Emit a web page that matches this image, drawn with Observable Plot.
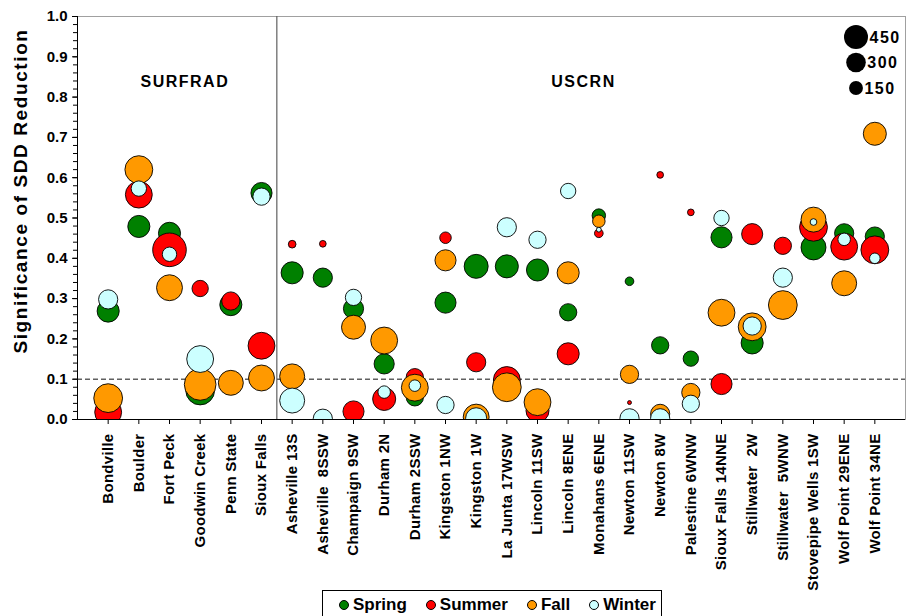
<!DOCTYPE html>
<html><head><meta charset="utf-8">
<script src="https://cdn.jsdelivr.net/npm/d3@7"></script>
<script src="https://cdn.jsdelivr.net/npm/@observablehq/plot@0.6"></script>
<style>
body{margin:0;background:#fff;font-family:"Liberation Sans",Arial,sans-serif;}
#wrap{position:relative;width:906px;height:616px;overflow:hidden;background:#fff;}
#wrap svg{font-family:"Liberation Sans",Arial,sans-serif;}
#legend{position:absolute;left:322px;top:590px;width:340px;height:32px;border:1px solid #000;box-sizing:border-box;background:#fff;
  display:flex;align-items:flex-start;padding-left:16px;padding-top:4px;font-weight:bold;font-size:17px;color:#000;}
#legend .item{display:flex;align-items:center;margin-right:19px;line-height:20px;}
#legend .dot{width:8px;height:8px;border-radius:50%;border:1px solid #000;margin-right:4px;}
</style></head>
<body><div id="wrap"></div>
<script>
const stations = ["Bondville","Boulder","Fort Peck","Goodwin Creek","Penn State","Sioux Falls",
  "Asheville 13S","Asheville  8SSW","Champaign 9SW","Durham 2N","Durham 2SSW","Kingston 1NW","Kingston 1W",
  "La Junta 17WSW","Lincoln 11SW","Lincoln 8ENE","Monahans 6ENE","Newton 11SW","Newton 8W","Palestine 6WNW",
  "Sioux Falls 14NNE","Stillwater  2W","Stillwater  5WNW","Stovepipe Wells 1SW","Wolf Point 29ENE","Wolf Point 34NE"];
const networks = ["SURFRAD","USCRN"];
const networkCounts = [6, 20];
const seasons = ["Spring","Summer","Fall","Winter"];
const seasonColors = ["#008000","#FF0000","#FF9900","#CCFFFF"];

const springValue = [0.269,0.479,0.462,0.072,0.285,0.562, 0.364,0.352,0.275,0.138,0.055,0.290,0.380,0.380,0.371,0.266,0.506,0.343,0.184,0.151,0.452,0.190,null,0.427,0.462,0.454];
const springSize  = [381,381,381,648,381,348, 381,288,318,318,233,348,450,415,381,233,141,58,233,184,348,381,null,487,288,288];
const summerValue = [0.018,0.558,0.421,0.325,0.294,0.183, 0.435,0.436,0.020,0.051,0.105,0.451,0.142,0.098,0.022,0.163,0.462,0.042,0.607,0.514,0.088,0.460,0.431,0.477,0.429,0.421];
const summerSize  = [564,564,882,208,260,564, 46,35,348,415,233,104,288,564,415,381,58,12,35,35,348,348,233,606,564,606];
const fallValue   = [0.053,0.620,0.327,0.087,0.091,0.103, 0.107,null,0.229,0.196,0.079,0.395,0.006,0.080,0.043,0.364,0.492,0.112,0.014,0.067,0.265,0.230,0.284,0.496,0.338,0.709];
const fallSize    = [648,606,525,784,487,525, 487,null,450,564,564,348,525,648,564,381,122,260,288,260,564,606,648,487,487,415];
const winterValue = [0.298,0.573,0.410,0.150,null,0.553, 0.047,0.002,0.303,0.068,0.084,0.036,0.003,0.477,0.446,0.567,0.471,0.003,0.003,0.039,0.500,0.232,0.352,0.490,0.447,0.400];
const winterSize  = [288,184,162,564,null,233, 487,288,208,122,104,233,348,288,233,184,18,288,288,233,184,260,288,35,122,87];

const threshold = 0.1;
const yTicks = [0,0.1,0.2,0.3,0.4,0.5,0.6,0.7,0.8,0.9,1.0];
const sizeLegend = [450,300,150];
const yLabel = "Significance of SDD Reduction";

const seriesValues = [springValue, summerValue, fallValue, winterValue];
const seriesSizes = [springSize, summerSize, fallSize, winterSize];
const rows = [];
seasons.forEach((s, k) => {
  seriesValues[k].forEach((v, i) => {
    if (v != null) rows.push({station: i + 1, season: s, value: v, size: seriesSizes[k][i]});
  });
});
let start = 1;
const groups = networks.map((n, i) => {
  const g = {name: n, center: start + (networkCounts[i] - 1) / 2, end: start + networkCounts[i] - 1};
  start += networkCounts[i];
  return g;
});
const separator = [groups[0].end + 0.5];
const minorTicks = d3.range(0, 51).map(i => i / 50);

const chart = Plot.plot({
  width: 906, height: 616,
  marginLeft: 77, marginRight: 1, marginTop: 16, marginBottom: 197,
  style: {fontFamily: '"Liberation Sans", Arial, sans-serif', color: "#000", background: "#fff"},
  x: {domain: [0, stations.length + 1], axis: null},
  y: {domain: [0, 1], axis: null},
  r: {type: "sqrt", domain: [0, 450], range: [0, 12]},
  color: {domain: seasons, range: seasonColors},
  marks: [
    Plot.frame({stroke: "#a0a0a0"}),
    Plot.ruleX(separator, {stroke: "#606060", strokeWidth: 1.2}),
    Plot.ruleY([threshold], {stroke: "#606060", strokeWidth: 1.5, strokeDasharray: "5,3"}),
    Plot.dot(rows, {x: "station", y: "value", r: "size", fill: "season", stroke: "#000", strokeWidth: 0.9, sort: null, clip: true}),
    Plot.ruleX([0], {stroke: "#000"}),
    Plot.ruleY([0], {stroke: "#000"}),
    Plot.axisY({ticks: minorTicks, tickSize: 4, tickFormat: () => "", label: null}),
    Plot.axisY({ticks: yTicks, tickSize: 5, tickPadding: 5, tickFormat: d3.format(".1f"), fontSize: 15, fontWeight: "bold", label: null}),
    Plot.axisX({ticks: d3.range(1, stations.length + 1), tickFormat: i => stations[i - 1], tickRotate: -90,
      tickSize: 5, tickPadding: 9, fontSize: 15, fontWeight: "bold", label: null}),
    Plot.text(groups, {x: "center", text: "name", frameAnchor: "top", lineAnchor: "middle", dy: 65, fontSize: 16, fontWeight: "bold"}),
    Plot.text([yLabel], {frameAnchor: "left", rotate: -90, textAnchor: "middle", dx: -57, dy: -27, fontSize: 19, fontWeight: "bold"})
  ]
});

d3.select(chart).selectAll("text").each(function() {
  const t = this.textContent;
  if (networks.includes(t)) this.style.letterSpacing = "1.5px";
  if (t === yLabel) this.style.letterSpacing = "1.6px";
  if (stations.includes(t)) this.style.letterSpacing = "0.3px";
});

const wrap = document.getElementById("wrap");
wrap.appendChild(chart);

// size legend
const rs = chart.scale("r");
const ov = d3.create("svg").attr("width", 906).attr("height", 110)
  .style("position", "absolute").style("left", "0px").style("top", "0px")
  .style("font-family", '"Liberation Sans", Arial, sans-serif');
sizeLegend.forEach((v, i) => {
  const cy = 37 + i * 25.5;
  const rr = rs.apply(v);
  ov.append("circle").attr("cx", 856).attr("cy", cy).attr("r", rr).attr("fill", "#000");
  ov.append("text").attr("x", 856 + rr + 1.5).attr("y", cy).attr("dy", "0.36em")
    .attr("font-size", 16).attr("font-weight", "bold").style("letter-spacing", "1.5px").text(v);
});
wrap.appendChild(ov.node());

// season legend
const lg = document.createElement("div");
lg.id = "legend";
seasons.forEach((s, k) => {
  const it = document.createElement("div"); it.className = "item";
  const d = document.createElement("div"); d.className = "dot"; d.style.background = seasonColors[k];
  const tx = document.createElement("span"); tx.textContent = s;
  it.appendChild(d); it.appendChild(tx); lg.appendChild(it);
});
wrap.appendChild(lg);
</script>
</body></html>
